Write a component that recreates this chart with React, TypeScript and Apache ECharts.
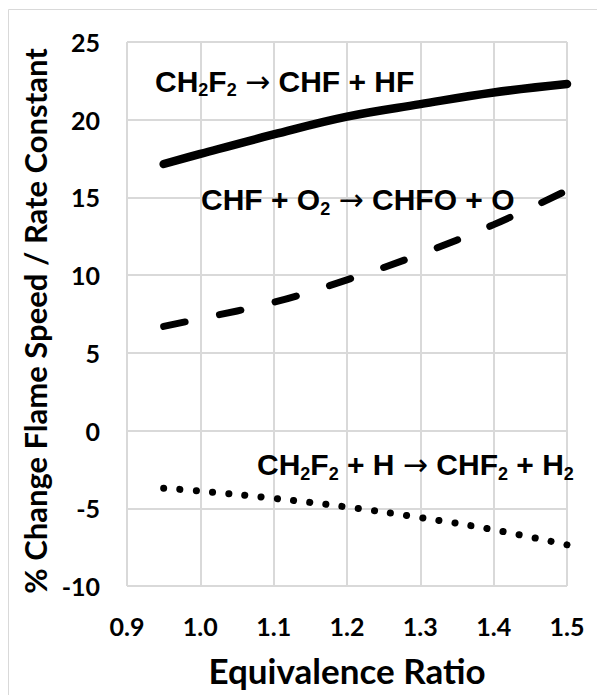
import React, { useEffect, useRef } from "react";
import * as echarts from "echarts";

// Equivalence ratio sample points
const phi = [0.95, 1.0, 1.1, 1.2, 1.3, 1.4, 1.5];
// CH2F2 → CHF + HF
const decomposition = [17.15, 17.8, 19.05, 20.2, 21.0, 21.75, 22.3];
// CHF + O2 → CHFO + O
const oxidation = [6.7, 7.2, 8.25, 9.7, 11.35, 13.25, 15.45];
// CH2F2 + H → CHF2 + H2
const abstraction = [-3.71, -3.89, -4.36, -4.92, -5.6, -6.38, -7.35];

const xMin = 0.9;
const xMax = 1.5;
const xStep = 0.1;
const yMin = -10;
const yMax = 25;
const yStep = 5;

const xTitle = "Equivalence Ratio";
const yTitle = "% Change Flame Speed / Rate Constant";

const label1 = "{m|CH}{s|2}{m|F}{s|2}{m| }{a|\u2192}{m| CHF + HF}";
const label2 = "{m|CHF + O}{s|2}{m| }{a|\u2192}{m| CHFO + O}";
const label3 = "{m|CH}{s|2}{m|F}{s|2}{m| + H }{a|\u2192}{m| CHF}{s|2}{m| + H}{s|2}";

const LATO = "Lato, 'Open Sans', sans-serif";
const ARIAL = "'Liberation Sans', Arial, sans-serif";

const rich = {
  m: {
    fontFamily: ARIAL,
    fontWeight: "bold",
    fontSize: 30,
    lineHeight: 36,
    fill: "#000",
    verticalAlign: "middle",
  },
  a: {
    fontFamily: "'DejaVu Sans', sans-serif",
    fontWeight: "normal",
    fontSize: 30,
    lineHeight: 36,
    fill: "#000",
    verticalAlign: "middle",
  },
  s: {
    fontFamily: ARIAL,
    fontWeight: "bold",
    fontSize: 18,
    lineHeight: 16.4,
    fill: "#000",
    verticalAlign: "bottom",
  },
};

const toPairs = (ys: number[]) => phi.map((x, i) => [x, ys[i]]);

export default function App() {
  const ref = useRef<HTMLDivElement>(null);
  useEffect(() => {
    if (!ref.current) return;
    const chart = echarts.init(ref.current, null, { renderer: "svg" });
    const annot = (x: number, y: number, text: string) => ({
      type: "text",
      x,
      y,
      silent: true,
      z: 10,
      style: {
        text,
        rich,
        align: "left",
        verticalAlign: "top",
        fontFamily: ARIAL,
        fontWeight: "bold",
        fontSize: 30,
        fill: "#000",
      },
    });
    chart.setOption({
      animation: false,
      backgroundColor: "#fff",
      grid: { left: 127, right: 30, top: 42, bottom: 109 },
      xAxis: {
        type: "value",
        min: xMin,
        max: xMax,
        interval: xStep,
        axisLine: { show: false },
        axisTick: { show: false },
        axisLabel: {
          margin: 27,
          color: "#000",
          fontFamily: LATO,
          fontWeight: "bold",
          fontSize: 25,
          formatter: (v: number) => v.toFixed(1),
        },
        splitLine: { show: true, lineStyle: { color: "#d9d9d9", width: 2 } },
      },
      yAxis: {
        type: "value",
        min: yMin,
        max: yMax,
        interval: yStep,
        axisLine: { show: false },
        axisTick: { show: false },
        axisLabel: {
          margin: 27,
          color: "#000",
          fontFamily: LATO,
          fontWeight: "bold",
          fontSize: 25,
        },
        splitLine: { show: true, lineStyle: { color: "#d9d9d9", width: 2 } },
      },
      series: [
        {
          name: "CH2F2 → CHF + HF",
          type: "line",
          data: toPairs(decomposition),
          smooth: 0.4,
          symbol: "none",
          lineStyle: { color: "#000", width: 8.5, cap: "round" },
        },
        {
          name: "CHF + O2 → CHFO + O",
          type: "line",
          data: toPairs(oxidation),
          smooth: 0.4,
          symbol: "none",
          lineStyle: { color: "#000", width: 7, cap: "round", type: [22, 35] },
        },
        {
          name: "CH2F2 + H → CHF2 + H2",
          type: "line",
          data: toPairs(abstraction),
          smooth: 0.4,
          symbol: "none",
          lineStyle: { color: "#000", width: 7, cap: "round", type: [0.1, 16.2] },
        },
      ],
      graphic: [
        {
          type: "rect",
          silent: true,
          shape: { x: 8.5, y: 9.5, width: 620, height: 720 },
          style: { fill: "none", stroke: "#d9d9d9", lineWidth: 1 },
        },
        annot(155, 63.3, label1),
        annot(201, 181.6, label2),
        annot(257, 446.6, label3),
        {
          type: "text",
          x: 347,
          y: 669.8,
          silent: true,
          style: {
            text: xTitle,
            align: "center",
            verticalAlign: "middle",
            fontFamily: LATO,
            fontWeight: "bold",
            fontSize: 35,
            fill: "#000",
          },
        },
        {
          type: "text",
          x: 35,
          y: 321,
          rotation: Math.PI / 2,
          silent: true,
          style: {
            text: yTitle,
            align: "center",
            verticalAlign: "middle",
            fontFamily: LATO,
            fontWeight: "bold",
            fontSize: 31,
            fill: "#000",
          },
        },
      ],
    });
    return () => chart.dispose();
  }, []);
  return (
    <div
      ref={ref}
      style={{ position: "fixed", left: 0, top: 0, width: 597, height: 695, background: "#fff" }}
    />
  );
}
